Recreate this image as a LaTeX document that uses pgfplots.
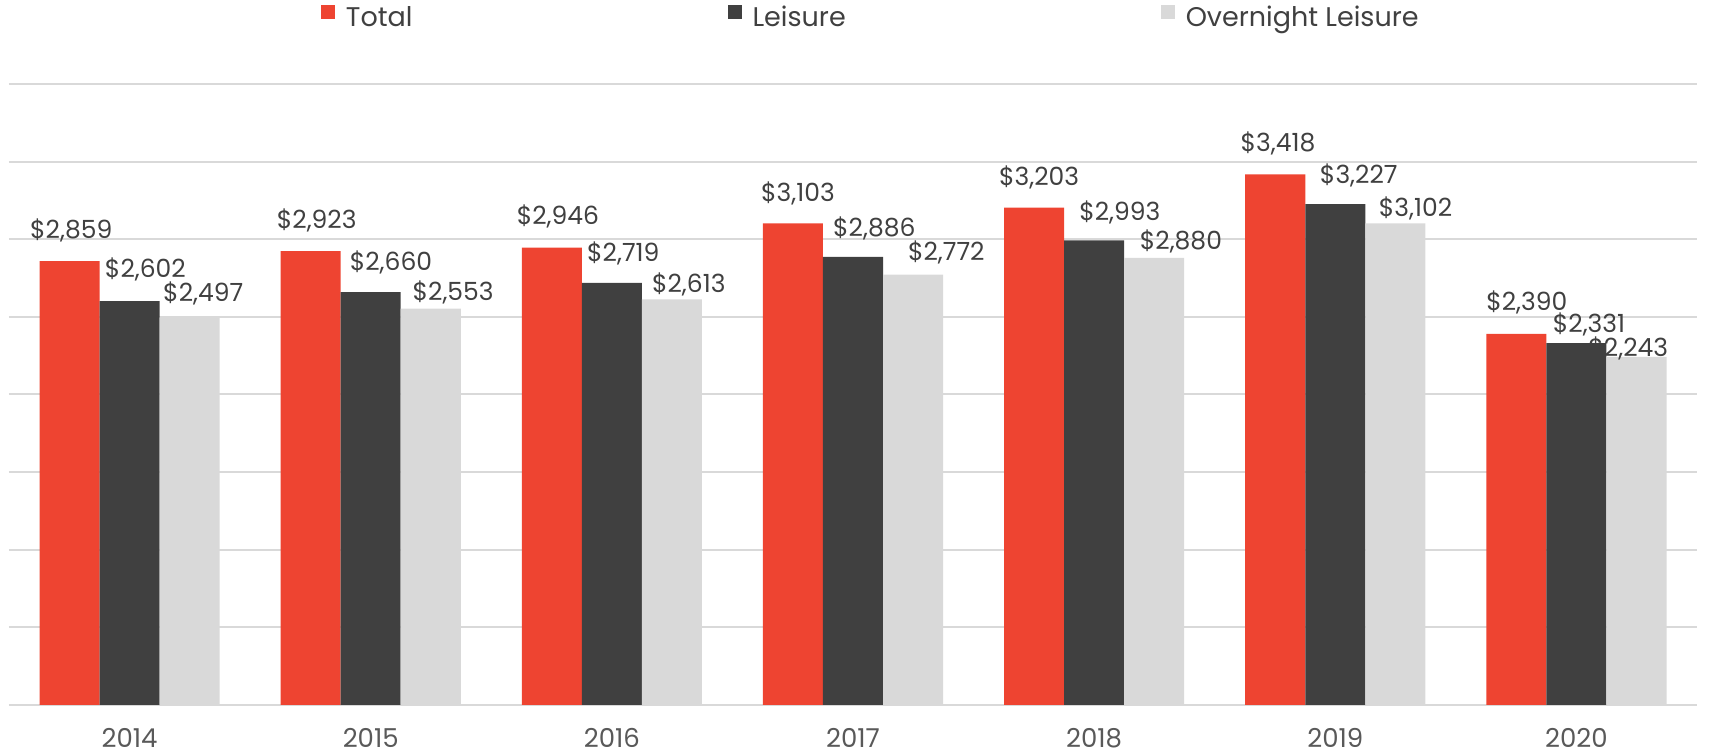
\documentclass[border=0pt]{standalone}
\usepackage{fontspec}
\setmainfont{Poppins}
\usepackage{pgfplots}
\pgfplotsset{compat=1.18}
\usepackage{pgfplotstable}
\definecolor{cTotal}{HTML}{EE4431}
\definecolor{cLeis}{HTML}{404040}
\definecolor{cOver}{HTML}{D9D9D9}
\definecolor{cGrid}{HTML}{D9D9D9}
\definecolor{cText}{HTML}{404040}
\definecolor{cTick}{HTML}{595959}

% x value dx dy (label offsets from bar centre, reference pixels)
\pgfplotstableread{
x y dx dy
0 2859 1.5 28
1 2923 5.5 28
2 2946 5.5 29
3 3103 4.5 27
4 3203 4.5 28
5 3418 2.5 28
6 2390 9.5 29
}\total
\pgfplotstableread{
x y dx dy
0 2602 14.5 29
1 2660 18.5 27
2 2719 10.5 27
3 2886 19.5 26
4 2993 23.5 26
5 3227 21.5 26
6 2331 11.5 17
}\leisure
\pgfplotstableread{
x y dx dy
0 2497 12.5 22
1 2553 20.5 15
2 2613 15.5 14
3 2772 30.5 20
4 2880 24.5 15
5 3102 18.5 14
6 2243 -7.5 8
}\overnight

\pgfplotsset{
  lbl/.style={
    point meta=y,
    nodes near coords={\$\pgfmathprintnumber{\pgfplotspointmeta}},
    visualization depends on={0.546*\thisrow{dx}+#1 \as \dx},
    visualization depends on={0.546*\thisrow{dy} \as \dy},
    every node near coord/.append style={anchor=center, xshift=\dx pt, yshift=\dy pt,
      font=\fontsize{12.5}{14}\selectfont, text=cText, inner sep=0pt},
  },
}

\begin{document}
\begin{tikzpicture}
\useasboundingbox (0pt,0pt) rectangle (856.5pt,377.5pt);
\begin{axis}[
  at={(4.5pt,25pt)}, anchor=south west,
  scale only axis, width=844pt, height=310.5pt,
  xmin=-0.5, xmax=6.5, ymin=0, ymax=4000,
  xtick={0,...,6}, xticklabels={2014,2015,2016,2017,2018,2019,2020},
  ytick={0,500,...,4000}, yticklabels={},
  ymajorgrids, grid style={cGrid, line width=1pt},
  axis line style={draw=none},
  major tick length=0pt,
  /pgf/number format/.cd, 1000 sep={,}, assume math mode=true, fixed, precision=0,
  /pgfplots/.cd,
  tick label style={font=\fontsize{13}{15}\selectfont, text=cTick},
  xticklabel style={anchor=base, yshift=-21pt},
  legend columns=3,
  legend style={draw=none, fill=none, at={(0.181,1)}, anchor=west, yshift=33.5pt,
    font=\fontsize{13.5}{15}\selectfont, text=cText,
    nodes={inner xsep=5.5pt, inner ysep=0pt},
    /tikz/every even column/.append style={column sep=152pt}},
]
\addplot[ybar, bar width=0.249, bar shift=-0.249, fill=cTotal, draw=none, lbl=-30,
  legend image code/.code={\fill[cTotal] (0pt,-0.5pt) rectangle (7pt,6.5pt);}]
  table[x=x,y=y]{\total};
\addlegendentry{Total}
\addplot[ybar, bar width=0.249, bar shift=0, fill=cLeis, draw=none, lbl=0,
  legend image code/.code={\fill[cLeis] (0pt,-0.5pt) rectangle (7pt,6.5pt);}]
  table[x=x,y=y]{\leisure};
\addlegendentry{Leisure}
\addplot[ybar, bar width=0.249, bar shift=0.249, fill=cOver, draw=none, lbl=30,
  legend image code/.code={\fill[cOver] (0pt,-0.5pt) rectangle (7pt,6.5pt);}]
  table[x=x,y=y]{\overnight};
\addlegendentry{Overnight Leisure}
\end{axis}
\end{tikzpicture}
\end{document}
